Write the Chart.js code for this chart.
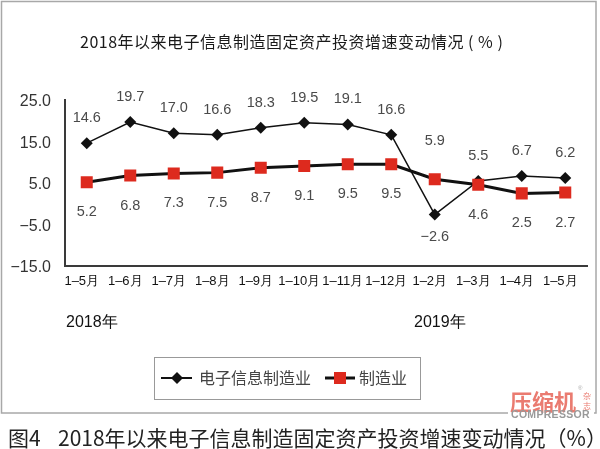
<!DOCTYPE html>
<html>
<head>
<meta charset="utf-8">
<script src="https://cdn.jsdelivr.net/npm/chart.js@4.4.0/dist/chart.umd.min.js"></script>
<style>
  html, body { margin: 0; padding: 0; background: #fff; }
  canvas { display: block; }
</style>
</head>
<body>
<canvas id="chart" width="600" height="449"></canvas>
<script>
// data
var categories = ['1–5月', '1–6月', '1–7月', '1–8月', '1–9月', '1–10月', '1–11月', '1–12月', '1–2月', '1–3月', '1–4月', '1–5月'];
var electronicsValues = [14.6, 19.7, 17.0, 16.6, 18.3, 19.5, 19.1, 16.6, -2.6, 5.5, 6.7, 6.2];
var manufacturingValues = [5.2, 6.8, 7.3, 7.5, 8.7, 9.1, 9.5, 9.5, 5.9, 4.6, 2.5, 2.7];
var yTicks = [-15, -5, 5, 15, 25];
var yearLabels = ['2018年', '2019年'];
var yearStartIndex = [0, 8];

var titleText = '2018年以来电子信息制造固定资产投资增速变动情况 ( % )';
var captionNo = '图4';
var captionText = '2018年以来电子信息制造固定资产投资增速变动情况（%）';

var CJK = '"Noto Sans CJK SC", "Noto Sans", sans-serif';
var LATIN = '"Liberation Sans", Arial, sans-serif';
var RED = '#dd2a1e';

function fmt(v) {
  var s = v.toFixed(1);
  return v < 0 ? '−' + s.slice(1) : s;
}

// white page, frame, title, year labels, legend, caption, logo
var decorPlugin = {
  id: 'decor',
  beforeDraw: function(chart) {
    var ctx = chart.ctx;
    ctx.save();
    ctx.fillStyle = '#fff';
    ctx.fillRect(0, 0, chart.width, chart.height);
    ctx.strokeStyle = '#a8a8a8';
    ctx.lineWidth = 1.5;
    ctx.strokeRect(1.5, 1.5, 594.5, 411.5);
    ctx.restore();
  },
  afterDraw: function(chart) {
    var ctx = chart.ctx;
    var x = chart.scales.x;
    var band = x.getPixelForValue(1) - x.getPixelForValue(0);
    ctx.save();

    // title
    ctx.fillStyle = '#1a1a1a';
    ctx.font = '16px ' + CJK;
    ctx.letterSpacing = '0.5px';
    ctx.textAlign = 'left';
    ctx.textBaseline = 'middle';
    ctx.fillText(titleText, 80, 42);
    ctx.letterSpacing = '0px';

    // year labels under the axis
    ctx.font = '16px ' + LATIN;
    ctx.fillStyle = '#111';
    yearLabels.forEach(function(t, k) {
      ctx.fillText(t, x.getPixelForValue(yearStartIndex[k]) - band / 2 + 1, 323);
    });

    // legend
    ctx.strokeStyle = '#999';
    ctx.lineWidth = 1;
    ctx.strokeRect(154.5, 357.5, 266, 42);
    var ly = 378;
    var ds = chart.data.datasets;
    // item 1
    ctx.strokeStyle = '#111';
    ctx.lineWidth = 2;
    ctx.beginPath(); ctx.moveTo(161, ly); ctx.lineTo(192, ly); ctx.stroke();
    ctx.fillStyle = '#111';
    ctx.beginPath();
    ctx.moveTo(177, ly - 6); ctx.lineTo(183, ly); ctx.lineTo(177, ly + 6); ctx.lineTo(171, ly);
    ctx.closePath(); ctx.fill();
    ctx.font = '16px ' + CJK;
    ctx.fillStyle = '#444';
    ctx.fillText(ds[0].label, 199, ly);
    // item 2
    ctx.strokeStyle = '#111';
    ctx.lineWidth = 3;
    ctx.beginPath(); ctx.moveTo(325, ly); ctx.lineTo(355, ly); ctx.stroke();
    ctx.fillStyle = RED;
    ctx.fillRect(334, ly - 6, 12, 12);
    ctx.fillStyle = '#444';
    ctx.fillText(ds[1].label, 359, ly);

    // logo
    ctx.fillStyle = '#fff';
    ctx.fillRect(508, 409, 86, 12);
    ctx.fillStyle = '#ea7b70';
    ctx.font = 'bold 22px ' + CJK;
    ctx.fillText('压缩机', 510, 402);
    ctx.font = '8px ' + CJK;
    ctx.fillText('杂', 583, 396);
    ctx.fillText('志', 583, 406);
    ctx.fillStyle = '#aaa';
    ctx.font = '6px ' + LATIN;
    ctx.fillText('®', 578, 388);
    ctx.fillStyle = '#999';
    ctx.font = 'bold 10.5px ' + LATIN;
    ctx.letterSpacing = '0.3px';
    ctx.fillText('COMPRESSOR', 511, 415);
    ctx.letterSpacing = '0px';

    // caption
    ctx.fillStyle = '#222';
    ctx.font = '21px ' + CJK;
    ctx.fillText(captionNo, 8, 438);
    ctx.fillText(captionText, 58, 438);

    ctx.restore();
  }
};

// value labels: above the upper point, below the lower point
var valueLabelPlugin = {
  id: 'valueLabels',
  afterDatasetsDraw: function(chart) {
    var ctx = chart.ctx;
    var a = chart.getDatasetMeta(0).data;
    var b = chart.getDatasetMeta(1).data;
    ctx.save();
    ctx.font = '14.5px ' + LATIN;
    ctx.fillStyle = '#4a4a4a';
    ctx.textAlign = 'center';
    ctx.textBaseline = 'middle';
    for (var i = 0; i < categories.length; i++) {
      var e = electronicsValues[i], m = manufacturingValues[i];
      if (e >= m) {
        ctx.fillText(fmt(e), a[i].x, a[i].y - 25);
        ctx.fillText(fmt(m), b[i].x, b[i].y + 30);
      } else {
        ctx.fillText(fmt(m), b[i].x, b[i].y - 38);
        ctx.fillText(fmt(e), a[i].x, a[i].y + 22);
      }
    }
    ctx.restore();
  }
};

new Chart(document.getElementById('chart'), {
  type: 'line',
  data: {
    labels: categories,
    datasets: [
      {
        label: '电子信息制造业',
        data: electronicsValues,
        borderColor: '#111',
        borderWidth: 1.5,
        pointStyle: 'rectRot',
        pointRadius: 6,
        pointBackgroundColor: '#111',
        pointBorderColor: '#111',
        pointBorderWidth: 0,
        tension: 0,
        order: 2
      },
      {
        label: '制造业',
        data: manufacturingValues,
        borderColor: '#111',
        borderWidth: 3,
        pointStyle: 'rect',
        pointRadius: 8.5,
        pointBackgroundColor: RED,
        pointBorderColor: RED,
        pointBorderWidth: 0,
        tension: 0,
        order: 1
      }
    ]
  },
  options: {
    responsive: false,
    animation: false,
    layout: { padding: { top: 100, right: 13, left: 0, bottom: 0 } },
    plugins: {
      legend: { display: false },
      tooltip: { enabled: false }
    },
    scales: {
      x: {
        offset: true,
        grid: { display: false, drawTicks: false },
        border: { display: true, color: '#3a3a3a', width: 2 },
        ticks: {
          autoSkip: false,
          maxRotation: 0,
          padding: 8,
          labelOffset: -5,
          color: '#111',
          font: { family: LATIN, size: 13 }
        },
        afterFit: function(s) { s.height = 183; }
      },
      y: {
        min: yTicks[0],
        max: yTicks[yTicks.length - 1],
        grid: { display: false, drawTicks: false },
        border: { display: true, color: '#3a3a3a', width: 2 },
        afterBuildTicks: function(s) {
          s.ticks = yTicks.map(function(v) { return { value: v }; });
        },
        ticks: {
          padding: 14,
          labelOffset: 2,
          color: '#333',
          font: { family: LATIN, size: 16 },
          callback: function(v) { return fmt(v); }
        },
        afterFit: function(s) { s.width = 65; }
      }
    }
  },
  plugins: [decorPlugin, valueLabelPlugin]
});
</script>
</body>
</html>
